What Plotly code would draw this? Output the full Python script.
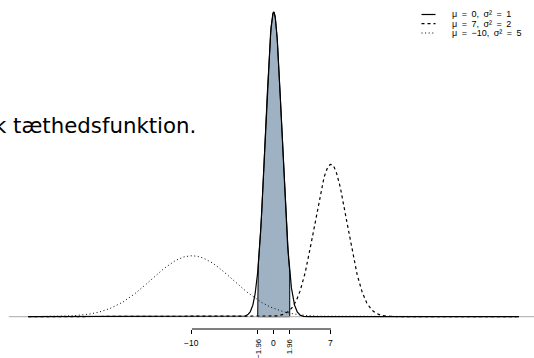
import numpy as np
import plotly.graph_objects as go

# ---- data ----
means = [0, 7, -10]
sigma_param = [1, 2, 5]          # parameter used for each density curve
legend_mu = ["0", "7", "\u221210"]
legend_sigma2 = ["1", "2", "5"]
dash_styles = ["solid", "3px,3px", "1px,2.6px"]
line_widths = [1.2, 1.2, 1.0]
x_span = [-30, 30]
shade_limits = [-1.96, 1.96]
tick_vals = [-10, -1.96, 0, 1.96, 7]
tick_text = ["\u221210", "\u22121.96", "0", "1.96", "7"]
tick_rotated = [False, True, False, True, False]
caption = "k tæthedsfunktion."

W, H = 534, 358
PLOT_BOTTOM = 329  # pixel row of the axis
FONT = "Liberation Sans"


def dnorm(x, m, s):
    return np.exp(-0.5 * ((x - m) / s) ** 2) / (s * np.sqrt(2 * np.pi))


fig = go.Figure()

# shaded area under the standard curve
xs = np.linspace(shade_limits[0], shade_limits[1], 200)
poly_x = np.concatenate([[shade_limits[0]], xs, [shade_limits[1]], [shade_limits[0]]])
poly_y = np.concatenate([[0], dnorm(xs, means[0], sigma_param[0]), [0], [0]])
fig.add_trace(go.Scatter(x=poly_x, y=poly_y, mode="lines", fill="toself",
                         fillcolor="#9fb2c4", line=dict(color="black", width=1),
                         hoverinfo="skip", showlegend=False))

# grey zero line across the plot region
ext = 0.04 * (x_span[1] - x_span[0])
fig.add_trace(go.Scatter(x=[x_span[0] - ext, x_span[1] + ext], y=[0, 0], mode="lines",
                         line=dict(color="#a8a8a8", width=1),
                         hoverinfo="skip", showlegend=False))

# density curves
xg = np.linspace(x_span[0], x_span[1], 3001)
for m, s, d, lw in zip(means, sigma_param, dash_styles, line_widths):
    fig.add_trace(go.Scatter(x=xg, y=dnorm(xg, m, s), mode="lines",
                             line=dict(color="black", width=lw, dash=d),
                             hoverinfo="skip", showlegend=False))

# axis scale: y=0 at pixel 316.7, peak of standard normal at pixel 12
px_per_unit = (316.7 - 12) / dnorm(0, 0, 1)
y_top = 316.7 / px_per_unit
y_bot = -(PLOT_BOTTOM - 316.7) / px_per_unit
px_per_x = 8.176
x_left = -273.7 / px_per_x
x_right = (W - 273.7) / px_per_x

fig.update_xaxes(range=[x_left, x_right], showgrid=False, zeroline=False,
                 showline=False, tickvals=tick_vals, ticks="outside", ticklen=4,
                 tickwidth=1, tickcolor="black", showticklabels=False, fixedrange=True)
fig.update_yaxes(range=[y_bot, y_top], visible=False, fixedrange=True)

shapes = []
# axis line from first to last tick
shapes.append(dict(type="line", xref="x", yref="paper", x0=min(tick_vals), x1=max(tick_vals),
                   y0=0, y1=0, line=dict(color="black", width=1)))

annotations = []
for v, t, r in zip(tick_vals, tick_text, tick_rotated):
    if r:
        annotations.append(dict(x=v, y=-(337 - PLOT_BOTTOM) / PLOT_BOTTOM, xref="x", yref="paper",
                                text=t, showarrow=False, textangle=-90, xanchor="center",
                                yanchor="top", font=dict(family=FONT, size=7.8, color="black")))
    else:
        annotations.append(dict(x=v, y=-(343 - PLOT_BOTTOM) / PLOT_BOTTOM, xref="x", yref="paper",
                                text=t, showarrow=False, xanchor="center", yanchor="middle",
                                font=dict(family=FONT, size=8.5, color="black")))

# legend (manual, compact like the original)
leg_rows = [14.5, 23.7, 33.0]
for mu, s2, d, lw, yy in zip(legend_mu, legend_sigma2, dash_styles, line_widths, leg_rows):
    yp = (PLOT_BOTTOM - yy) / PLOT_BOTTOM
    shapes.append(dict(type="line", xref="paper", yref="paper", x0=421.5 / W, x1=435.5 / W,
                       y0=yp, y1=yp, line=dict(color="black", width=lw, dash=d)))
    annotations.append(dict(x=449.5 / W, y=yp, xref="paper", yref="paper",
                            text=f"\u03bc\u2002=\u2002{mu},\u2002\u03c3\u00b2\u2002=\u2002{s2}",
                            showarrow=False, xanchor="left", yanchor="middle",
                            font=dict(family=FONT, size=9, color="black")))

# clipped caption text from surrounding document
annotations.append(dict(x=197.5 / W, y=(PLOT_BOTTOM - 125) / PLOT_BOTTOM, xref="paper", yref="paper",
                        text=caption, showarrow=False, xanchor="right", yanchor="middle",
                        font=dict(family="DejaVu Sans", size=21.3, color="black")))

fig.update_layout(width=W, height=H, autosize=False,
                  margin=dict(l=0, r=0, t=0, b=H - PLOT_BOTTOM, pad=0),
                  paper_bgcolor="white", plot_bgcolor="white",
                  shapes=shapes, annotations=annotations, showlegend=False)

fig.write_html("out.html", config={"displayModeBar": False, "staticPlot": True},
               post_script="document.body.style.margin='0';document.body.style.overflow='hidden';")
